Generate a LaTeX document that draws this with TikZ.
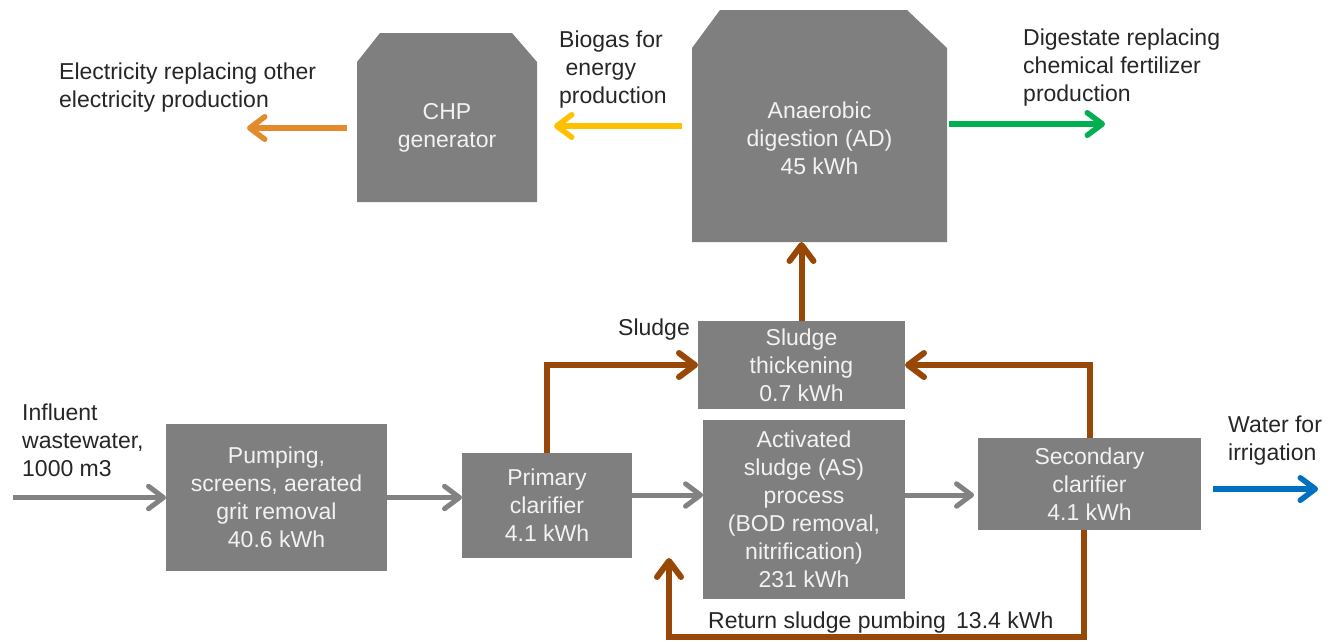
\documentclass[tikz,border=0pt]{standalone}
\usepackage{fontspec}
\setmainfont{Liberation Sans}
\usetikzlibrary{arrows.meta,calc}

\definecolor{boxgray}{HTML}{7F7F7F}
\definecolor{boxtextcol}{HTML}{F2F2F2}
\definecolor{labelcol}{HTML}{262626}
\definecolor{flowgray}{HTML}{828282}
\definecolor{sludgebrown}{HTML}{974806}
\definecolor{elecorange}{HTML}{E38A2C}
\definecolor{biogasyellow}{HTML}{FFC000}
\definecolor{digestgreen}{HTML}{00B050}
\definecolor{waterblue}{HTML}{0070C0}

\newcommand\diagfont{\fontsize{23pt}{28pt}\selectfont}

\begin{document}
\begin{tikzpicture}[x=1pt, y=-1pt,
  procbox/.style={fill=boxgray, text=boxtextcol, font=\diagfont, align=center,
    inner sep=0pt, outer sep=0pt},
  shellbox/.style={inner sep=0pt, outer sep=0pt},
  boxtext/.style={text=boxtextcol, font=\diagfont, align=center, inner sep=0pt},
  flowlabel/.style={text=labelcol, font=\diagfont, align=left, inner sep=0pt,
    anchor=base west},
  barb/.style={-{Straight Barb[length=#1, width=1.5*#1, line cap=round, line join=round]}},
  grayflow/.style={draw=flowgray, line width=5pt, barb=15pt},
  sludgeflow/.style={draw=sludgebrown, line width=6pt, barb=16pt},
  outflow/.style={draw=#1, line width=5.5pt, barb=15pt},
]
\useasboundingbox (0,0) rectangle (1332,641);

% ---- process boxes ----
\node[procbox, minimum width=221pt, minimum height=147pt] (pump) at (276.5,497.5)
  {Pumping,\\screens, aerated\\grit removal\\40.6 kWh};
\node[procbox, minimum width=170pt, minimum height=105pt] (prim) at (547,505.5)
  {Primary\\clarifier\\4.1 kWh};
\node[procbox, minimum width=202pt, minimum height=179pt] (act) at (804,509.5)
  {Activated\\sludge (AS)\\process\\(BOD removal,\\nitrification)\\231 kWh};
\node[procbox, minimum width=223pt, minimum height=92pt] (sec) at (1089.5,484)
  {Secondary\\clarifier\\4.1 kWh};
\node[procbox, minimum width=207pt, minimum height=88pt] (thick) at (801.5,365)
  {Sludge\\thickening\\0.7 kWh};

% ---- chamfered tanks: CHP generator and anaerobic digester ----
\node[shellbox, minimum width=180pt, minimum height=169pt] (chp) at (447,117.5) {};
\fill[boxgray] (chp.south west) -- ([yshift=-29pt]chp.north west)
  -- ([xshift=23pt]chp.north west) -- ([xshift=-25pt]chp.north east)
  -- ([yshift=-29pt]chp.north east) -- (chp.south east) -- cycle;
\node[boxtext] (chptext) at ([yshift=-10pt]chp.center) {CHP\\generator};

\node[shellbox, minimum width=255pt, minimum height=232pt] (ad) at (819.5,126) {};
\fill[boxgray] (ad.south west) -- ([yshift=-38pt]ad.north west)
  -- ([xshift=28pt]ad.north west) -- ([xshift=-40pt]ad.north east)
  -- ([yshift=-38pt]ad.north east) -- (ad.south east) -- cycle;
\node[boxtext] (adtext) at ([yshift=-12.5pt]ad.center)
  {Anaerobic\\digestion (AD)\\45 kWh};

% ---- free ends of the inflow and outflows ----
\coordinate (influent) at (13,497.5);
\coordinate (mainline) at (0,495);
\coordinate (water) at (1318,489);
\coordinate (elec) at (247,128);
\coordinate (digest) at (1105,124);
\coordinate (retcorner) at (669,637);

% ---- labels (anchored at the baseline of their last line) ----
\node[flowlabel] (lblinf) at (22,476) {Influent\\wastewater,\\1000 m3};
\node[flowlabel] (lblwater) at (1228,460) {Water for\\irrigation};
\node[flowlabel] (lblelec) at (59,107) {Electricity replacing other\\electricity production};
\node[flowlabel] (lblbio) at (559,103) {Biogas for\\\hspace*{6.5pt}energy\\production};
\node[flowlabel] (lbldig) at (1023,101) {Digestate replacing\\chemical fertilizer\\production};
\node[flowlabel] (lblsludge) at (618,335) {Sludge};
\node[flowlabel] (lblret) at (708,628) {Return sludge pumbing \,13.4 kWh};

% ---- water line ----
\draw[grayflow] (influent) -- (pump);
\draw[grayflow] (pump.east) -- (prim.west |- pump.east);
\draw[grayflow] (prim.east |- mainline) -- (act.west |- mainline);
\draw[grayflow] (act.east |- mainline) -- ([xshift=-4pt]sec.west |- mainline);
\draw[outflow=waterblue] ([xshift=12pt]sec.east |- water) -- (water);

% ---- sludge line ----
\draw[sludgeflow] (prim.north) |- (thick.west);
\draw[sludgeflow] (sec.north) |- (thick.east);
\draw[sludgeflow] (thick.north) -- (thick.north |- ad.south);
\draw[sludgeflow] ([xshift=-6pt]sec.south) |- (retcorner) -- (prim.south -| retcorner);

% ---- energy and product outflows ----
\draw[outflow=biogasyellow] ([xshift=-10pt]ad.west) -- ([xshift=17pt]chp.east |- ad.west);
\draw[outflow=elecorange] ([xshift=-10pt]chp.west |- elec) -- (elec);
\draw[outflow=digestgreen] ([xshift=2pt]ad.east |- digest) -- (digest);
\end{tikzpicture}
\end{document}
